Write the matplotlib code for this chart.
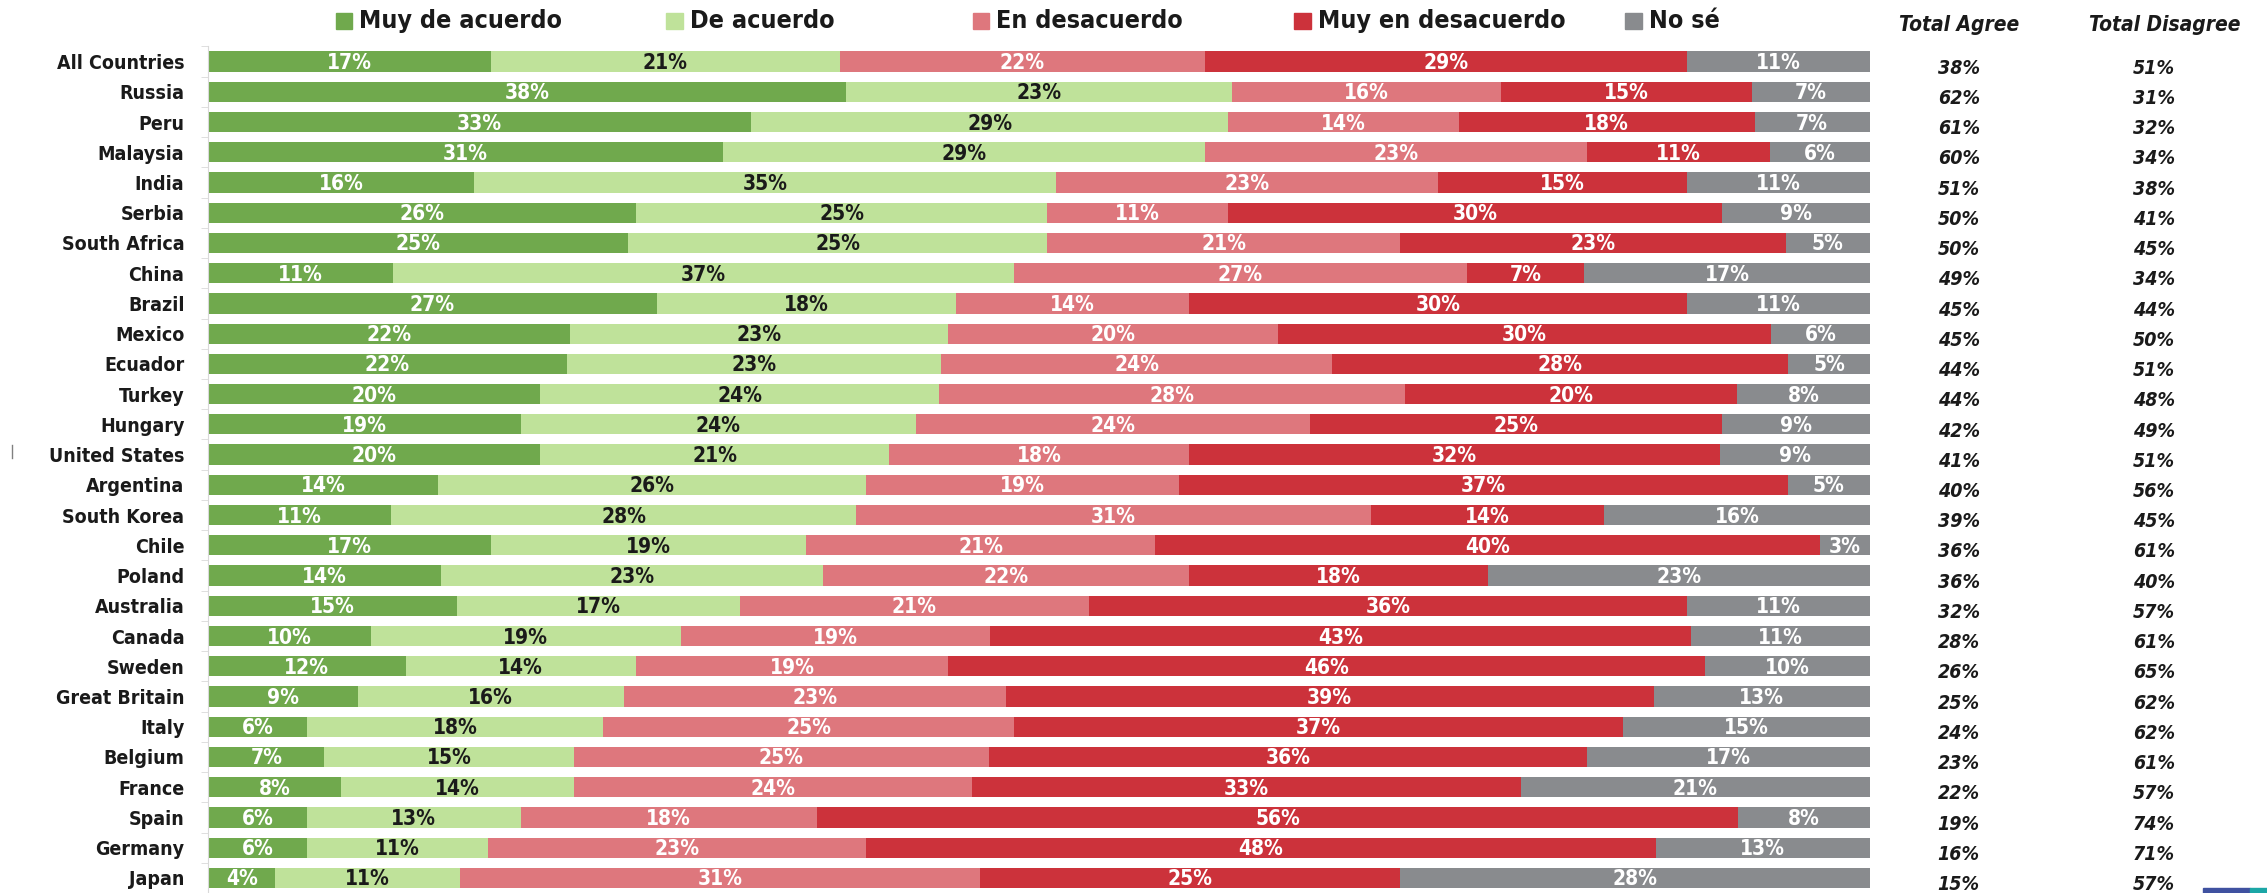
import numpy as np
import matplotlib
matplotlib.use("Agg")
import matplotlib.pyplot as plt
from matplotlib.patches import Rectangle

countries = ["All Countries", "Russia", "Peru", "Malaysia", "India", "Serbia",
             "South Africa", "China", "Brazil", "Mexico", "Ecuador", "Turkey",
             "Hungary", "United States", "Argentina", "South Korea", "Chile",
             "Poland", "Australia", "Canada", "Sweden", "Great Britain", "Italy",
             "Belgium", "France", "Spain", "Germany", "Japan"]

muy_de_acuerdo = [17, 38, 33, 31, 16, 26, 25, 11, 27, 22, 22, 20, 19, 20, 14, 11,
                  17, 14, 15, 10, 12, 9, 6, 7, 8, 6, 6, 4]
de_acuerdo = [21, 23, 29, 29, 35, 25, 25, 37, 18, 23, 23, 24, 24, 21, 26, 28,
              19, 23, 17, 19, 14, 16, 18, 15, 14, 13, 11, 11]
en_desacuerdo = [22, 16, 14, 23, 23, 11, 21, 27, 14, 20, 24, 28, 24, 18, 19, 31,
                 21, 22, 21, 19, 19, 23, 25, 25, 24, 18, 23, 31]
muy_en_desacuerdo = [29, 15, 18, 11, 15, 30, 23, 7, 30, 30, 28, 20, 25, 32, 37, 14,
                     40, 18, 36, 43, 46, 39, 37, 36, 33, 56, 48, 25]
no_se = [11, 7, 7, 6, 11, 9, 5, 17, 11, 6, 5, 8, 9, 9, 5, 16,
         3, 23, 11, 11, 10, 13, 15, 17, 21, 8, 13, 28]

total_agree = [38, 62, 61, 60, 51, 50, 50, 49, 45, 45, 44, 44, 42, 41, 40, 39,
               36, 36, 32, 28, 26, 25, 24, 23, 22, 19, 16, 15]
total_disagree = [51, 31, 32, 34, 38, 41, 45, 34, 44, 50, 51, 48, 49, 51, 56, 45,
                  61, 40, 57, 61, 65, 62, 62, 61, 57, 74, 71, 57]

series_names = ["Muy de acuerdo", "De acuerdo", "En desacuerdo",
                "Muy en desacuerdo", "No sé"]
colors = ["#70A94D", "#BFE29A", "#DE777D", "#CC323B", "#898B8E"]
text_colors = ["white", "#1a1a1a", "white", "white", "white"]

# condensed bold, closest thing to the Calibri of the original
font = dict(family="DejaVu Sans", stretch="condensed", fontweight="bold")

data = np.array([muy_de_acuerdo, de_acuerdo, en_desacuerdo,
                 muy_en_desacuerdo, no_se], dtype=float)
# bars all reach the same right edge in the original (unrounded values)
shares = data / data.sum(axis=0) * 100

fig = plt.figure(figsize=(22.67, 8.93), dpi=100)
ax = fig.add_axes([0.0918, 0.0, 0.733, 0.948])

y = np.arange(len(countries))
left = np.zeros(len(countries))
for i in range(5):
    ax.barh(y, shares[i], left=left, height=0.67, color=colors[i],
            edgecolor="none")
    for j in range(len(countries)):
        ax.text(left[j] + shares[i][j] / 2, y[j] + 0.05, f"{int(data[i][j])}%",
                ha="center", va="center", color=text_colors[i],
                fontsize=15, **font)
    left += shares[i]

ax.set_xlim(0, 100)
ax.set_ylim(len(countries) - 0.5, -0.5)
ax.set_yticks(y)
ax.set_yticklabels(countries, fontsize=14, color="#1a1a1a", **font)
ax.set_yticks(np.arange(len(countries) + 1) - 0.5, minor=True)
ax.tick_params(axis="y", which="major", length=0, pad=17)
ax.tick_params(axis="y", which="minor", length=5, color="#d9d9d9")
ax.set_xticks([])
for s in ["top", "right", "bottom"]:
    ax.spines[s].set_visible(False)
ax.spines["left"].set_color("#d9d9d9")

# totals columns
trans = ax.get_yaxis_transform()
for j in range(len(countries)):
    ax.text(1.0535, y[j] + 0.22, f"{total_agree[j]}%", transform=trans,
            ha="center", va="center", fontsize=14, style="italic",
            color="#1a1a1a", **font)
    ax.text(1.171, y[j] + 0.22, f"{total_disagree[j]}%", transform=trans,
            ha="center", va="center", fontsize=14, style="italic",
            color="#1a1a1a", **font)
fig.text(0.864, 0.972, "Total Agree", ha="center", va="center", fontsize=15,
         style="italic", color="#1a1a1a", **font)
fig.text(0.955, 0.972, "Total Disagree", ha="center", va="center", fontsize=15,
         style="italic", color="#1a1a1a", **font)

# legend drawn by hand to keep the wide spacing of the original
legend_x = [0.148, 0.294, 0.429, 0.571, 0.717]
for i, name in enumerate(series_names):
    fig.patches.append(Rectangle((legend_x[i], 0.967), 0.0072, 0.019,
                                 transform=fig.transFigure, color=colors[i]))
    fig.text(legend_x[i] + 0.0102, 0.977, name, ha="left", va="center",
             fontsize=18, color="#1a1a1a", **font)

# small decorations from the source slide
fig.patches.append(Rectangle((0.9717, 0.0), 0.021, 0.006,
                             transform=fig.transFigure, color="#3F51A0"))
fig.patches.append(Rectangle((0.9927, 0.0), 0.0073, 0.006,
                             transform=fig.transFigure, color="#1BA6A6"))
fig.lines.append(plt.Line2D([0.0053, 0.0053], [0.487, 0.502],
                            transform=fig.transFigure, color="#808080", lw=1))

fig.savefig("out.png", dpi=100)
